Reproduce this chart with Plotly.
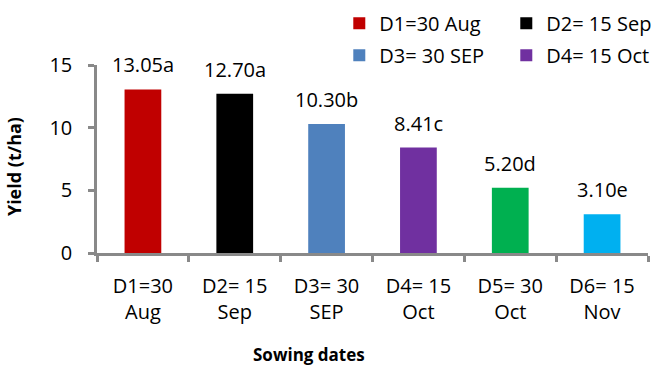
import plotly.graph_objects as go

# Sowing-date treatments and grain yield (t/ha)
categories = ["D1=30<br>Aug", "D2= 15<br>Sep", "D3= 30<br>SEP",
              "D4= 15<br>Oct", "D5= 30<br>Oct", "D6= 15<br>Nov"]
legend_names = ["D1=30 Aug", "D2= 15 Sep", "D3= 30 SEP",
                "D4= 15 Oct", "D5= 30 Oct", "D6= 15 Nov"]
yields = [13.05, 12.70, 10.30, 8.41, 5.20, 3.10]
letters = ["a", "a", "b", "c", "d", "e"]
colors = ["#C00000", "#000000", "#4F81BD", "#7030A0", "#00B050", "#00B0F0"]
legend_ids = ["legend", "legend", "legend2", "legend2", None, None]

FONT = "Open Sans"
AXIS_GRAY = "#898989"

fig = go.Figure()
for cat, name, val, col, lg in zip(categories, legend_names, yields, colors, legend_ids):
    fig.add_trace(go.Bar(
        x=[cat], y=[val], name=name,
        marker=dict(color=col, line=dict(width=0)),
        width=0.4,
        showlegend=lg is not None,
        legend=lg if lg else "legend",
    ))

# value + significance letter above each bar
for cat, val, let in zip(categories, yields, letters):
    fig.add_annotation(
        x=cat, y=val, text=f"{val:.2f}{let}",
        showarrow=False, yanchor="bottom", yshift=9,
        font=dict(family=FONT, size=20, color="#000000"),
    )

# axis titles
fig.add_annotation(
    xref="paper", yref="paper", x=0.385, y=-0.54,
    text="<b>Sowing dates</b>", showarrow=False,
    xanchor="center", yanchor="middle",
    font=dict(family=FONT, size=17, color="#000000"),
)
fig.add_annotation(
    xref="paper", yref="paper", x=-0.1506, y=0.457,
    text="<b>Yield (t/ha)</b>", showarrow=False, textangle=-90,
    xanchor="center", yanchor="middle",
    font=dict(family=FONT, size=18, color="#000000"),
)

legend_common = dict(
    orientation="h", xref="container", yref="container",
    xanchor="left", yanchor="top",
    font=dict(family=FONT, size=20, color="#000000"),
    bgcolor="rgba(0,0,0,0)", borderwidth=0,
    entrywidth=122, entrywidthmode="pixels",
    itemclick=False, itemdoubleclick=False,
)

fig.update_layout(
    width=655, height=368,
    margin=dict(l=97, r=7, t=65, b=115, autoexpand=False),
    paper_bgcolor="white", plot_bgcolor="white",
    barmode="overlay",
    font=dict(family=FONT, size=20, color="#000000"),
    legend=dict(x=0.518, y=0.99, **legend_common),
    legend2=dict(x=0.518, y=0.903, **legend_common),
    xaxis=dict(
        type="category", showgrid=False,
        showline=True, linecolor=AXIS_GRAY, linewidth=2.5,
        ticks="outside", tickson="boundaries", ticklen=6,
        tickcolor=AXIS_GRAY, tickwidth=2.5,
        tickfont=dict(family=FONT, size=20, color="#000000"),
        ticklabelstandoff=13,
    ),
    yaxis=dict(
        range=[0, 15], dtick=5, showgrid=False, zeroline=False,
        showline=True, linecolor=AXIS_GRAY, linewidth=2.5,
        ticks="outside", ticklen=6, tickcolor=AXIS_GRAY, tickwidth=2.5,
        tickfont=dict(family=FONT, size=20, color="#000000"),
        ticklabelstandoff=12,
    ),
)

fig.write_html("out.html")
